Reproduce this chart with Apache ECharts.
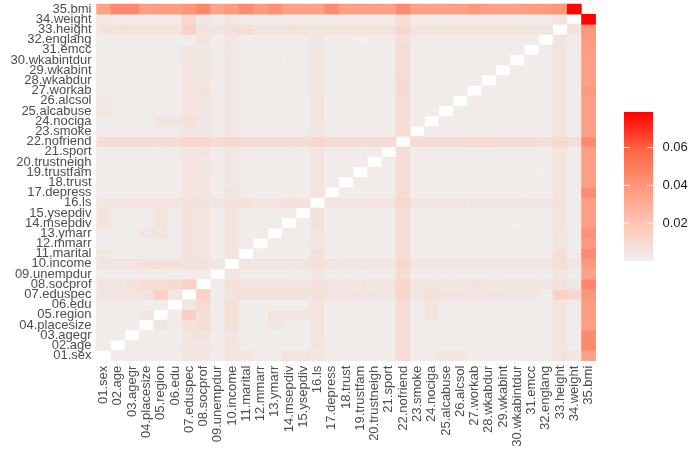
<!DOCTYPE html>
<html>
<head>
<meta charset="utf-8">
<script src="https://cdn.jsdelivr.net/npm/echarts@6/dist/echarts.min.js"></script>
<style>
  html, body { margin: 0; padding: 0; background: #fff; }
  #chart { width: 696px; height: 453px; }
</style>
</head>
<body>
<div id="chart"></div>
<script>
// variable names, bottom-to-top on y, left-to-right on x
const vars = ['01.sex', '02.age', '03.agegr', '04.placesize', '05.region', '06.edu', '07.eduspec',
  '08.socprof', '09.unempdur', '10.income', '11.marital', '12.mmarr', '13.ymarr', '14.msepdiv',
  '15.ysepdiv', '16.ls', '17.depress', '18.trust', '19.trustfam', '20.trustneigh', '21.sport',
  '22.nofriend', '23.smoke', '24.nociga', '25.alcabuse', '26.alcsol', '27.workab', '28.wkabdur',
  '29.wkabint', '30.wkabintdur', '31.emcc', '32.englang', '33.height', '34.weight', '35.bmi']

// one row per variable (01..35), columns 01..35, null on the diagonal
const matrix = [
  [null,.002,.002,.002,.002, .002,.005,.005,.002,.005, .004,.002,.002,.005,.005, .004,.002,.002,.002,.002, .002,.009,.002,.002,.004, .004,.002,.002,.002,.002, .002,.002,.006,.004,.035],
  [.002,null,.002,.002,.002, .002,.004,.004,.002,.005, .002,.002,.002,.002,.002, .005,.002,.002,.002,.002, .002,.009,.002,.002,.002, .002,.002,.002,.002,.002, .002,.002,.006,.002,.045],
  [.002,.002,null,.002,.002, .002,.005,.006,.002,.005, .002,.002,.002,.002,.002, .005,.002,.002,.002,.002, .002,.009,.002,.002,.002, .002,.002,.002,.002,.002, .002,.002,.006,.002,.045],
  [.002,.002,.002,null,.004, .002,.006,.009,.002,.007, .002,.002,.004,.002,.002, .005,.002,.002,.002,.002, .002,.009,.002,.002,.002, .002,.002,.002,.002,.002, .002,.002,.006,.002,.036],
  [.002,.002,.002,.004,null, .002,.015,.008,.002,.007, .002,.002,.005,.005,.005, .005,.002,.002,.002,.002, .002,.009,.002,.005,.002, .002,.002,.002,.002,.002, .002,.002,.006,.002,.037],
  [.002,.002,.002,.002,.002, null,.004,.010,.002,.007, .002,.002,.002,.002,.002, .005,.002,.002,.002,.002, .002,.009,.002,.005,.002, .002,.002,.002,.002,.002, .002,.002,.006,.002,.037],
  [.005,.004,.005,.006,.015, .004,null,.014,.002,.006, .006,.006,.006,.006,.006, .007,.005,.005,.005,.005, .004,.012,.004,.007,.005, .005,.005,.005,.005,.004, .004,.002,.014,.011,.040],
  [.005,.004,.006,.009,.008, .010,.014,null,.002,.006, .005,.005,.005,.005,.005, .006,.005,.005,.004,.004, .005,.012,.004,.004,.004, .004,.006,.004,.004,.004, .004,.005,.006,.004,.046],
  [.002,.002,.002,.002,.002, .002,.002,.002,null,.004, .002,.002,.002,.002,.002, .004,.002,.002,.002,.002, .002,.009,.002,.002,.002, .002,.002,.002,.002,.002, .002,.002,.004,.002,.034],
  [.005,.005,.005,.007,.007, .007,.006,.006,.004,null, .005,.005,.005,.005,.005, .007,.005,.004,.004,.004, .004,.011,.004,.004,.004, .004,.004,.004,.004,.004, .004,.004,.008,.004,.038],
  [.004,.002,.002,.002,.002, .002,.006,.005,.002,.005, null,.002,.002,.002,.002, .007,.002,.002,.002,.002, .002,.009,.002,.002,.002, .002,.002,.002,.002,.002, .002,.002,.008,.002,.044],
  [.002,.002,.002,.002,.002, .002,.006,.005,.002,.005, .002,null,.002,.002,.002, .004,.002,.002,.002,.002, .002,.009,.002,.002,.002, .002,.002,.002,.002,.002, .002,.002,.005,.002,.038],
  [.002,.002,.002,.004,.005, .002,.006,.005,.002,.005, .002,.002,null,.002,.002, .005,.002,.002,.002,.002, .002,.009,.002,.002,.002, .002,.002,.002,.002,.002, .002,.002,.005,.002,.042],
  [.005,.002,.002,.002,.005, .002,.006,.005,.002,.005, .002,.002,.002,null,.002, .006,.002,.002,.002,.002, .002,.009,.002,.002,.002, .002,.002,.002,.002,.001, .002,.002,.006,.002,.036],
  [.005,.002,.002,.002,.005, .002,.006,.005,.002,.005, .002,.002,.002,.002,null, .006,.002,.002,.002,.002, .002,.009,.002,.002,.002, .002,.002,.002,.002,.002, .002,.002,.006,.002,.036],
  [.004,.005,.005,.005,.005, .005,.007,.006,.004,.007, .007,.004,.005,.006,.006, null,.005,.005,.005,.005, .005,.011,.004,.005,.005, .005,.004,.004,.004,.004, .004,.004,.006,.002,.036],
  [.002,.002,.002,.002,.002, .002,.005,.005,.002,.005, .002,.002,.002,.002,.002, .005,null,.002,.002,.002, .002,.009,.002,.002,.002, .002,.002,.002,.002,.002, .002,.002,.006,.002,.044],
  [.002,.002,.002,.002,.002, .002,.005,.005,.002,.004, .002,.002,.002,.002,.002, .005,.002,null,.002,.002, .002,.009,.002,.002,.002, .002,.002,.002,.002,.002, .002,.002,.006,.002,.036],
  [.002,.002,.002,.002,.002, .002,.005,.004,.002,.004, .002,.002,.002,.002,.002, .005,.002,.002,null,.002, .002,.009,.002,.002,.002, .002,.002,.002,.002,.002, .002,.001,.006,.002,.036],
  [.002,.002,.002,.002,.002, .002,.005,.004,.002,.004, .002,.002,.002,.002,.002, .005,.002,.002,.002,null, .002,.009,.002,.002,.002, .002,.002,.002,.002,.002, .002,.002,.006,.002,.036],
  [.002,.002,.002,.002,.002, .002,.004,.005,.002,.004, .002,.002,.002,.002,.002, .005,.002,.002,.002,.002, null,.009,.002,.002,.002, .002,.002,.002,.002,.002, .002,.002,.006,.002,.036],
  [.009,.009,.009,.009,.009, .009,.012,.012,.009,.011, .009,.009,.009,.009,.009, .011,.009,.009,.009,.009, .009,null,.009,.009,.009, .009,.010,.010,.009,.009, .009,.008,.011,.008,.044],
  [.002,.002,.002,.002,.002, .002,.004,.004,.002,.004, .002,.002,.002,.002,.002, .004,.002,.002,.002,.002, .002,.009,null,.002,.002, .002,.002,.002,.002,.002, .002,.002,.006,.002,.036],
  [.002,.002,.002,.002,.005, .005,.007,.004,.002,.004, .002,.002,.002,.002,.002, .005,.002,.002,.002,.002, .002,.009,.002,null,.002, .002,.002,.002,.002,.002, .002,.002,.006,.002,.036],
  [.004,.002,.002,.002,.002, .002,.005,.004,.002,.004, .002,.002,.002,.002,.002, .005,.002,.002,.002,.002, .002,.009,.002,.002,null, .002,.002,.002,.002,.002, .002,.002,.006,.002,.036],
  [.004,.002,.002,.002,.002, .002,.005,.004,.002,.004, .002,.002,.002,.002,.002, .005,.002,.002,.002,.002, .002,.009,.002,.002,.002, null,.002,.002,.002,.002, .002,.002,.006,.002,.036],
  [.002,.002,.002,.002,.002, .002,.005,.006,.002,.004, .002,.002,.002,.002,.002, .004,.002,.002,.002,.002, .002,.010,.002,.002,.002, .002,null,.002,.002,.002, .002,.002,.006,.002,.039],
  [.002,.002,.002,.002,.002, .002,.005,.004,.002,.004, .002,.002,.002,.002,.002, .004,.002,.002,.002,.002, .002,.010,.002,.002,.002, .002,.002,null,.002,.002, .002,.002,.006,.002,.036],
  [.002,.002,.002,.002,.002, .002,.005,.004,.002,.004, .002,.002,.002,.002,.002, .004,.002,.002,.002,.002, .002,.009,.002,.002,.002, .002,.002,.002,null,.002, .002,.002,.006,.002,.036],
  [.002,.002,.002,.002,.002, .002,.004,.004,.002,.004, .002,.002,.002,.001,.002, .004,.002,.002,.002,.002, .002,.009,.002,.002,.002, .002,.002,.002,.002,null, .002,.002,.006,.002,.036],
  [.002,.002,.002,.002,.002, .002,.004,.004,.002,.004, .002,.002,.002,.002,.002, .004,.002,.002,.002,.002, .002,.009,.002,.002,.002, .002,.002,.002,.002,.002, null,.002,.006,.002,.037],
  [.002,.002,.002,.002,.002, .002,.002,.005,.002,.004, .002,.002,.002,.002,.002, .004,.002,.002,.001,.002, .002,.008,.002,.002,.002, .002,.002,.002,.002,.002, .002,null,.005,.002,.038],
  [.006,.006,.006,.006,.006, .006,.014,.006,.004,.008, .008,.005,.005,.006,.006, .006,.006,.006,.006,.006, .006,.011,.006,.006,.006, .006,.006,.006,.006,.006, .006,.005,null,.006,.040],
  [.004,.002,.002,.002,.002, .002,.011,.004,.002,.004, .002,.002,.002,.002,.002, .002,.002,.002,.002,.002, .002,.008,.002,.002,.002, .002,.002,.002,.002,.002, .002,.002,.006,null,.078],
  [.035,.045,.045,.036,.037, .037,.040,.046,.034,.038, .044,.038,.042,.036,.036, .036,.044,.036,.036,.036, .036,.044,.036,.036,.036, .036,.039,.036,.036,.036, .037,.038,.040,.078,null]
]

// colour scale
const scaleMin = 0
const scaleMax = 0.0788
const scaleColors = ['#efefef', '#ffc5b4', '#ff977b', '#ff6443', '#ff0000']
const legendTicks = [0.02, 0.04, 0.06]

const FONT = '"Liberation Sans", Arial, sans-serif'

function buildData() {
  const out = []
  matrix.forEach((row, y) => {
    row.forEach((v, x) => {
      if (v !== null) out.push([x, y, v])
    })
  })
  return out
}

// colour bar drawn by hand so it can carry ggplot-style ticks
function buildLegend() {
  const bx = 624, by = 112, bw = 29, bh = 149
  const stops = scaleColors.map((c, i) => ({ offset: 1 - i / (scaleColors.length - 1), color: c }))
  const els = [{
    type: 'rect',
    shape: { x: bx, y: by, width: bw, height: bh },
    style: { fill: new echarts.graphic.LinearGradient(0, 0, 0, 1, stops) }
  }]
  legendTicks.forEach(t => {
    const ty = by + bh * (1 - (t - scaleMin) / (scaleMax - scaleMin))
    els.push({ type: 'line', shape: { x1: bx, y1: ty, x2: bx + 6, y2: ty }, style: { stroke: '#fff', lineWidth: 1 } })
    els.push({ type: 'line', shape: { x1: bx + bw - 6, y1: ty, x2: bx + bw, y2: ty }, style: { stroke: '#fff', lineWidth: 1 } })
    els.push({
      type: 'text', x: bx + bw + 9.5, y: ty,
      style: { text: t.toFixed(2), fill: '#1a1a1a', font: '13px ' + FONT, textVerticalAlign: 'middle' }
    })
  })
  return els
}

function buildOption() {
  return {
    backgroundColor: '#fff',
    animation: false,
    grid: { left: 96.5, right: 100.3, top: 4, bottom: 92.3 },
    xAxis: {
      type: 'category',
      data: vars,
      axisLine: { show: false },
      axisTick: { show: false },
      splitLine: { show: false },
      axisLabel: { rotate: 90, interval: 0, margin: 5, color: '#4d4d4d', fontSize: 13, fontFamily: FONT }
    },
    yAxis: {
      type: 'category',
      data: vars,
      axisLine: { show: false },
      axisTick: { show: false },
      splitLine: { show: false },
      axisLabel: { interval: 0, margin: 5, color: '#4d4d4d', fontSize: 13, fontFamily: FONT }
    },
    visualMap: {
      show: false,
      min: scaleMin,
      max: scaleMax,
      dimension: 2,
      inRange: { color: scaleColors }
    },
    graphic: buildLegend(),
    series: [{
      type: 'heatmap',
      data: buildData(),
      itemStyle: { borderWidth: 0 },
      emphasis: { disabled: true }
    }]
  }
}

const chart = echarts.init(document.getElementById('chart'))
chart.setOption(buildOption())
</script>
</body>
</html>
